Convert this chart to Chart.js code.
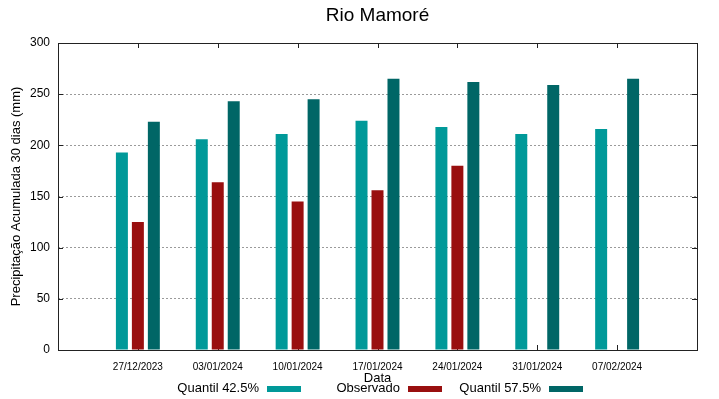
<!DOCTYPE html>
<html>
<head>
<meta charset="utf-8">
<script src="https://cdn.jsdelivr.net/npm/chart.js@4.4.1/dist/chart.umd.min.js"></script>
<style>
body { margin: 0; background: #fff; }
#box { width: 719px; height: 399px; }
</style>
</head>
<body>
<div id="box"><canvas id="myChart"></canvas></div>
<script>
// dados
const datas = ['27/12/2023', '03/01/2024', '10/01/2024', '17/01/2024', '24/01/2024', '31/01/2024', '07/02/2024']
const quantil425 = [193, 206, 211, 224, 218, 211, 216]
const observado = [125, 164, 145, 156, 180, null, null]
const quantil575 = [223, 243, 245, 265, 262, 259, 265]

const titulo = 'Rio Mamoré'
const cores = ['#009999', '#990f0f', '#006666']
const fonte = '"Liberation Sans", Arial, sans-serif'

// cada barra fica na posicao 1..7 de um eixo linear 0..8
function pontos(serie) {
    let out = []
    serie.forEach((v, i) => {
        if (v !== null) out.push({x: i + 1, y: v})
    })
    return out
}

// moldura, ticks pra dentro, titulo e legenda estilo gnuplot
const gnuplotStyle = {
    id: 'gnuplotStyle',
    beforeDatasetsDraw(chart) {
        const c = chart.ctx
        const a = chart.chartArea
        const xs = chart.scales.x
        const ys = chart.scales.y
        c.save()
        c.strokeStyle = '#222'
        c.lineWidth = 1
        c.beginPath()
        ys.ticks.forEach(t => {
            const py = Math.round(ys.getPixelForValue(t.value)) + 0.5
            c.moveTo(a.left, py); c.lineTo(a.left + 5, py)
            c.moveTo(a.right, py); c.lineTo(a.right - 5, py)
        })
        datas.forEach((d, i) => {
            const px = Math.round(xs.getPixelForValue(i + 1)) + 0.5
            c.moveTo(px, a.top); c.lineTo(px, a.top + 5)
            c.moveTo(px, a.bottom); c.lineTo(px, a.bottom - 5)
        })
        c.stroke()
        c.restore()
    },
    afterDraw(chart) {
        const c = chart.ctx
        const a = chart.chartArea
        c.save()
        c.strokeStyle = '#222'
        c.lineWidth = 1
        c.strokeRect(Math.round(a.left) + 0.5, Math.round(a.top) + 0.5,
            Math.round(a.right - a.left), Math.round(a.bottom - a.top))
        // titulo centrado na area do grafico
        c.fillStyle = '#000'
        c.font = '19px ' + fonte
        c.textAlign = 'center'
        c.textBaseline = 'middle'
        c.fillText(titulo, (a.left + a.right) / 2, 16)
        // legenda
        const fimTexto = [259, 400, 541]
        c.font = '13px ' + fonte
        c.textAlign = 'right'
        chart.data.datasets.forEach((ds, i) => {
            c.fillStyle = '#000'
            c.fillText(ds.label, fimTexto[i], 388)
            c.fillStyle = ds.backgroundColor
            c.fillRect(fimTexto[i] + 8, 386, 34, 6)
        })
        c.restore()
    }
}

const ctx = document.getElementById('myChart')
const myChart = new Chart(ctx, {
    type: 'bar',
    data: {
        datasets: [
            {label: 'Quantil 42.5%', data: pontos(quantil425), backgroundColor: cores[0]},
            {label: 'Observado', data: pontos(observado), backgroundColor: cores[1]},
            {label: 'Quantil 57.5%', data: pontos(quantil575), backgroundColor: cores[2]}
        ]
    },
    options: {
        responsive: true,
        maintainAspectRatio: false,
        animation: false,
        categoryPercentage: 0.6,
        barPercentage: 0.75,
        layout: {padding: {left: 0, right: 22, top: 43, bottom: 0}},
        plugins: {
            legend: {display: false},
            tooltip: {enabled: false},
            title: {display: false}
        },
        scales: {
            x: {
                type: 'linear',
                min: 0,
                max: 8,
                offset: false,
                grid: {display: false, offset: false, drawTicks: false},
                border: {display: false},
                afterFit(scale) { scale.height = 49 },
                ticks: {
                    stepSize: 1,
                    autoSkip: false,
                    maxRotation: 0,
                    padding: 11,
                    color: '#000',
                    font: {family: fonte, size: 10},
                    callback: v => datas[v - 1] || ''
                },
                title: {
                    display: true,
                    text: 'Data',
                    color: '#000',
                    font: {family: fonte, size: 13},
                    padding: {top: 0, bottom: 13.2}
                }
            },
            y: {
                min: 0,
                max: 300,
                grid: {color: '#9a9a9a', lineWidth: 1, drawTicks: false},
                border: {display: false, dash: [2, 2]},
                afterFit(scale) { scale.width = 58 },
                ticks: {
                    stepSize: 50,
                    padding: 8,
                    color: '#000',
                    font: {family: fonte, size: 12}
                },
                title: {
                    display: true,
                    text: 'Precipitação Acumulada 30 dias (mm)',
                    color: '#000',
                    font: {family: fonte, size: 13},
                    padding: {top: 9, bottom: 0}
                }
            }
        }
    },
    plugins: [gnuplotStyle]
})
</script>
</body>
</html>
